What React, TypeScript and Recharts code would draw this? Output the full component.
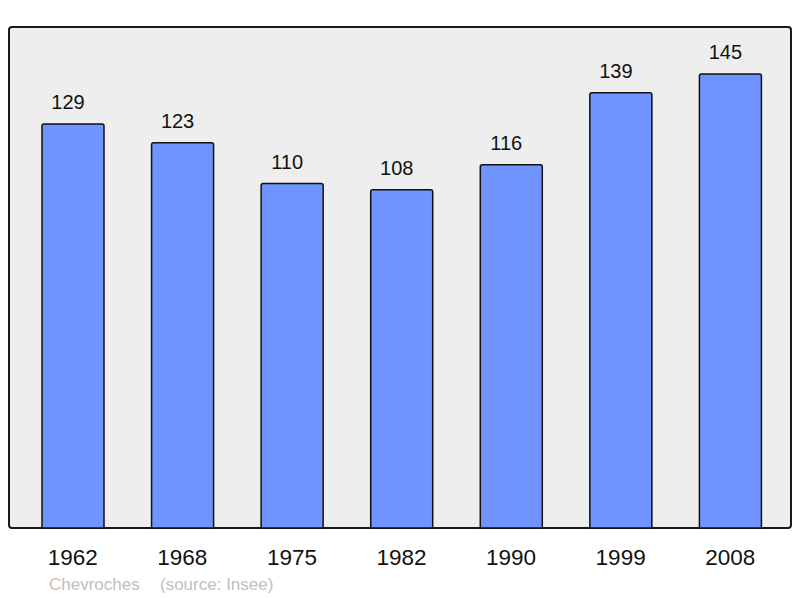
import { BarChart, Bar, XAxis, YAxis, LabelList } from "recharts";

const years = ["1962", "1968", "1975", "1982", "1990", "1999", "2008"];
const population = [129, 123, 110, 108, 116, 139, 145];
const yDomain = [0, 160];

const data = years.map((year, i) => ({ year, population: population[i] }));

const W = 800;
const H = 598;
const margin = { top: 27, right: 9, left: 9, bottom: 0 };
const axisHeight = 70;
const font = "'Liberation Sans', Arial, sans-serif";

export default function App() {
    return (
        <div style={{ position: "absolute", left: 0, top: 0, width: W, height: H, fontFamily: font }}>
            {/* grey frame behind the plot area */}
            <div
                style={{
                    position: "absolute",
                    left: margin.left - 1,
                    top: margin.top - 1,
                    width: W - margin.left - margin.right + 2,
                    height: H - margin.top - axisHeight + 2,
                    boxSizing: "border-box",
                    border: "2px solid #1a1a1a",
                    borderRadius: 4,
                    background: "#eeeeee",
                }}
            />
            <div style={{ position: "absolute", left: 0, top: 0 }}>
                <BarChart width={W} height={H} data={data} margin={margin}>
                    <XAxis
                        dataKey="year"
                        height={axisHeight}
                        axisLine={false}
                        tickLine={false}
                        tickSize={0}
                        tickMargin={21}
                        padding={{ left: 9, right: 6 }}
                        tick={{ fill: "#111", fontSize: 22.5, fontFamily: font }}
                        interval={0}
                    />
                    <YAxis hide domain={yDomain} />
                    <Bar
                        dataKey="population"
                        fill="#7094ff"
                        stroke="#111"
                        strokeWidth={1.5}
                        barSize={62}
                        radius={[2, 2, 0, 0]}
                        isAnimationActive={false}
                    >
                        <LabelList
                            dataKey="population"
                            position="top"
                            offset={15}
                            dx={-5}
                            fill="#111"
                            fontSize={20}
                            fontFamily={font}
                        />
                    </Bar>
                </BarChart>
            </div>
            <svg width={W} height={H} style={{ position: "absolute", left: 0, top: 0, pointerEvents: "none" }}>
                <text x={49} y={590} fontSize={17} fill="#c0c0c0" fontFamily={font}>Chevroches</text>
                <text x={160} y={590} fontSize={17} fill="#c0c0c0" fontFamily={font}>(source: Insee)</text>
            </svg>
        </div>
    );
}
